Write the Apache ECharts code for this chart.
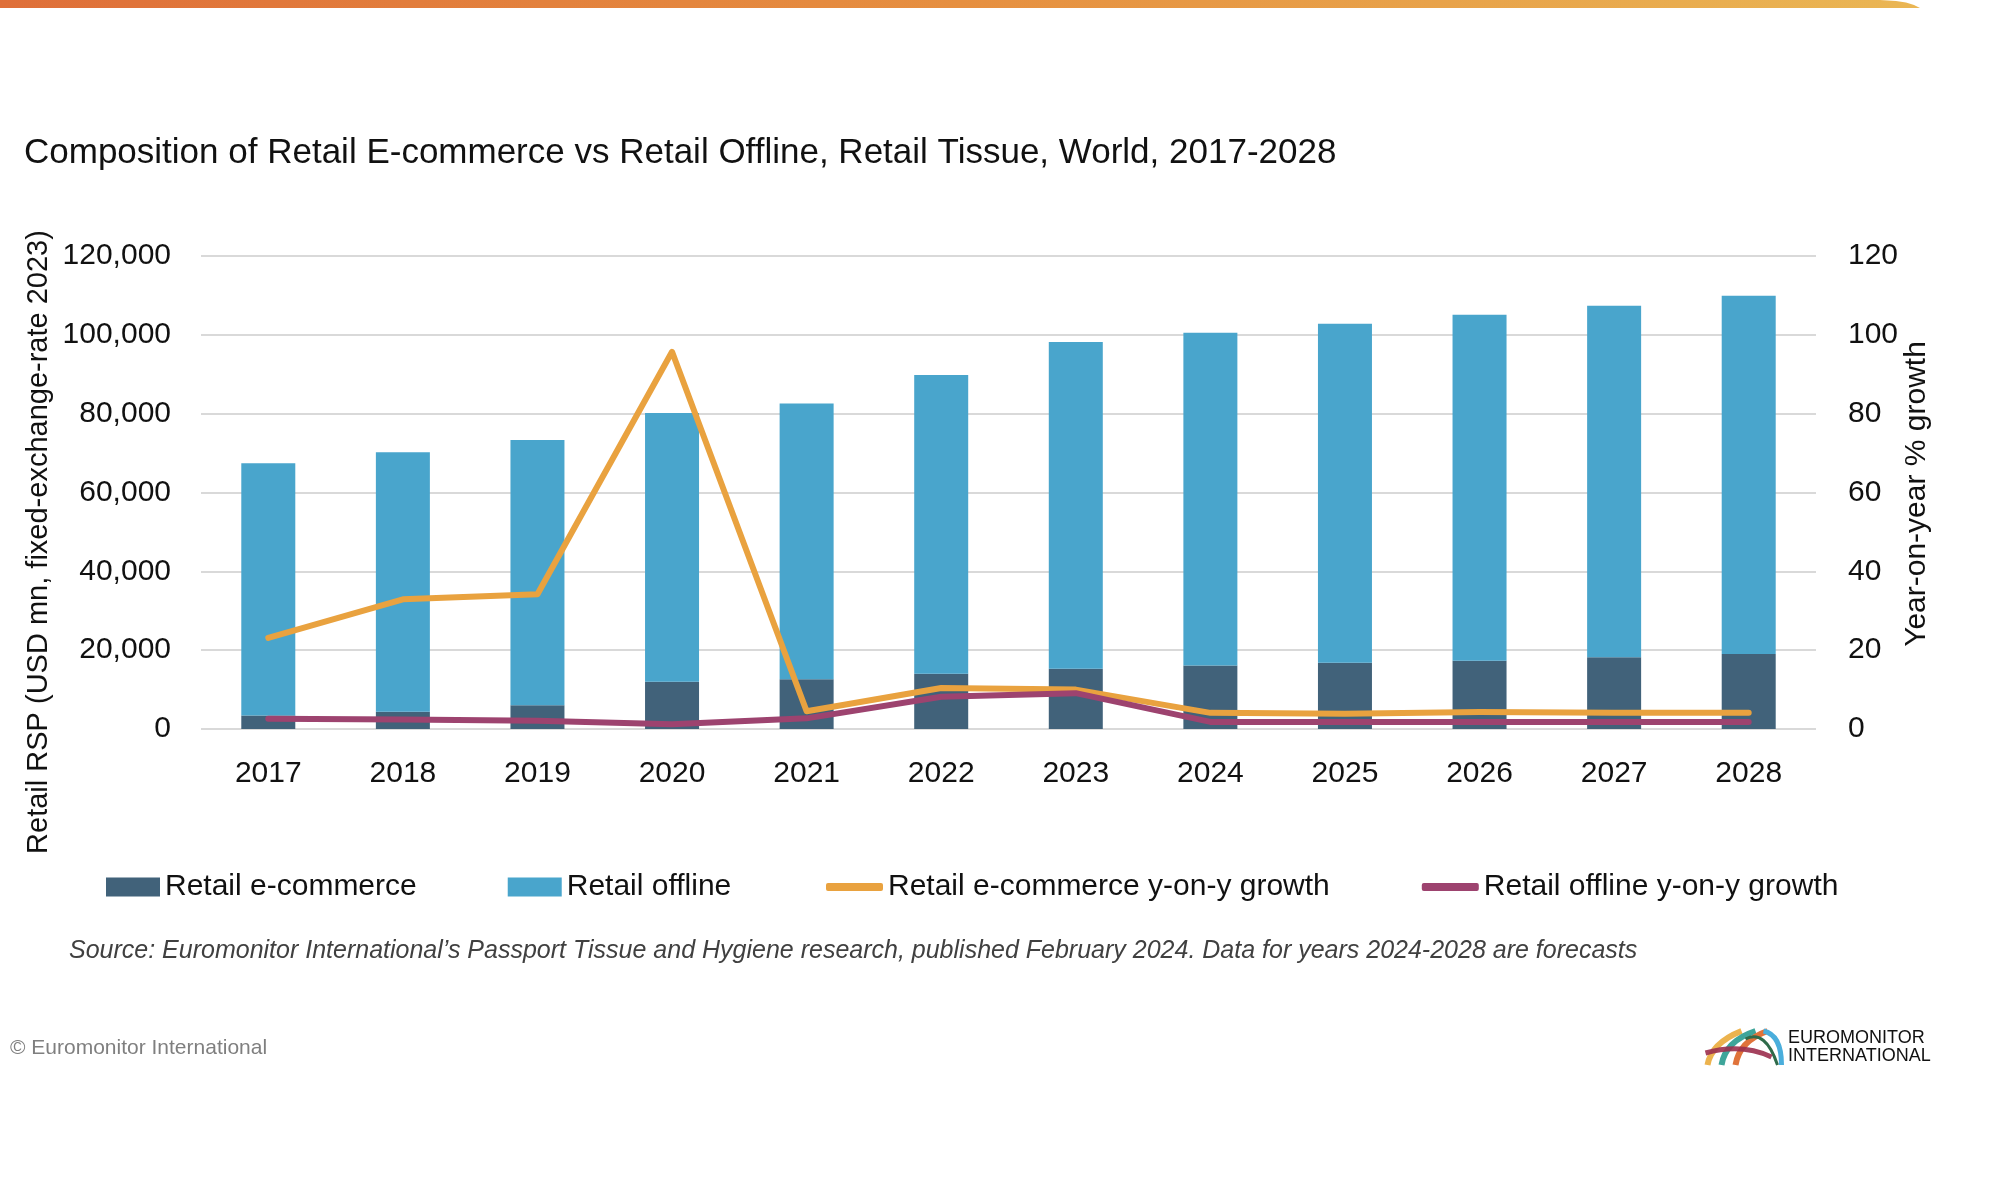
<!DOCTYPE html>
<html>
<head>
<meta charset="utf-8">
<title>Retail E-commerce vs Retail Offline, Retail Tissue</title>
<script src="https://cdn.jsdelivr.net/npm/echarts@6/dist/echarts.min.js"></script>
<style>
  html, body { margin: 0; padding: 0; background: #fff; }
  #chart { width: 2000px; height: 1195px; }
</style>
</head>
<body>
<div id="chart"></div>
<script>
// data
var years = ["2017", "2018", "2019", "2020", "2021", "2022", "2023", "2024", "2025", "2026", "2027", "2028"];
var ecommerce = [3400, 4400, 6000, 12000, 12600, 14000, 15300, 16100, 16800, 17300, 18200, 19000];
var offline = [64000, 65800, 67300, 68200, 70000, 75800, 82900, 84400, 86000, 87800, 89200, 90900];
var ecommerceGrowth = [23.1, 32.9, 34.2, 95.7, 4.5, 10.4, 10.0, 4.1, 3.9, 4.3, 4.1, 4.1];
var offlineGrowth = [2.6, 2.4, 2.1, 1.2, 2.7, 8.2, 9.1, 1.8, 1.8, 1.8, 1.8, 1.8];
var leftTicks = { min: 0, max: 120000, interval: 20000 };
var rightTicks = { min: 0, max: 120, interval: 20 };

var FONT = "Liberation Sans, Arial, sans-serif";
var colors = {
  ecom: "#41627a",
  offline: "#49a5cc",
  ecomGrowth: "#e9a23f",
  offlineGrowth: "#9d436f"
};

var chart = echarts.init(document.getElementById("chart"), null, { renderer: "canvas" });

var topBar = new echarts.graphic.LinearGradient(0, 0, 1, 0, [
  { offset: 0, color: "#df6f39" },
  { offset: 0.5, color: "#e68f40" },
  { offset: 1, color: "#eab654" }
]);

var option = {
  backgroundColor: "#ffffff",
  animation: false,
  textStyle: { fontFamily: FONT },
  grid: {
    left: 201,
    right: 184,
    top: 256,
    bottom: 466,
    containLabel: false
  },
  legend: [
    {
      left: 101,
      top: 867,
      itemWidth: 54,
      itemHeight: 19,
      itemGap: 91,
      icon: "rect",
      textStyle: { fontSize: 30, color: "#111", fontFamily: FONT },
      data: ["Retail e-commerce", "Retail offline"]
    },
    {
      left: 821,
      top: 867,
      itemWidth: 57,
      itemHeight: 8,
      itemGap: 92,
      icon: "roundRect",
      textStyle: { fontSize: 30, color: "#111", fontFamily: FONT },
      data: ["Retail e-commerce y-on-y growth", "Retail offline y-on-y growth"]
    }
  ],
  xAxis: {
    type: "category",
    data: years,
    axisLine: { show: false },
    axisTick: { show: false },
    axisLabel: { fontSize: 30, color: "#111", margin: 30, fontFamily: FONT }
  },
  yAxis: [
    {
      type: "value",
      min: leftTicks.min,
      max: leftTicks.max,
      interval: leftTicks.interval,
      axisLine: { show: false },
      axisTick: { show: false },
      splitLine: { lineStyle: { color: "#d9d9d9", width: 2 } },
      axisLabel: {
        fontSize: 30,
        color: "#111",
        margin: 30,
        fontFamily: FONT,
        formatter: function (v) { return v.toLocaleString("en-US"); }
      }
    },
    {
      type: "value",
      position: "right",
      min: rightTicks.min,
      max: rightTicks.max,
      interval: rightTicks.interval,
      axisLine: { show: false },
      axisTick: { show: false },
      splitLine: { show: false },
      axisLabel: { fontSize: 30, color: "#111", margin: 32, fontFamily: FONT }
    }
  ],
  series: [
    {
      name: "Retail e-commerce",
      type: "bar",
      stack: "rsp",
      barWidth: 54,
      color: colors.ecom,
      data: ecommerce
    },
    {
      name: "Retail offline",
      type: "bar",
      stack: "rsp",
      barWidth: 54,
      color: colors.offline,
      data: offline
    },
    {
      name: "Retail e-commerce y-on-y growth",
      type: "line",
      yAxisIndex: 1,
      symbol: "none",
      color: colors.ecomGrowth,
      lineStyle: { width: 6, cap: "round", join: "round" },
      data: ecommerceGrowth
    },
    {
      name: "Retail offline y-on-y growth",
      type: "line",
      yAxisIndex: 1,
      symbol: "none",
      color: colors.offlineGrowth,
      lineStyle: { width: 6, cap: "round", join: "round" },
      data: offlineGrowth
    }
  ],
  graphic: [
    // orange band at the top of the slide
    {
      type: "polygon",
      shape: {
        points: [[0, 0], [1880, 0], [1896, 1], [1906, 2.5], [1914, 5], [1920, 8], [0, 8]]
      },
      style: { fill: topBar }
    },
    {
      type: "text",
      left: 24,
      top: 136,
      style: {
        text: "Composition of Retail E-commerce vs Retail Offline, Retail Tissue, World, 2017-2028",
        font: "35px " + FONT,
        fill: "#111"
      }
    },
    // axis names
    {
      type: "text",
      x: 39,
      y: 542,
      rotation: Math.PI / 2,
      style: {
        text: "Retail RSP (USD mn, fixed-exchange-rate 2023)",
        font: "29px " + FONT,
        fill: "#111",
        align: "center",
        verticalAlign: "middle"
      }
    },
    {
      type: "text",
      x: 1917,
      y: 494,
      rotation: Math.PI / 2,
      style: {
        text: "Year-on-year % growth",
        font: "30px " + FONT,
        fill: "#111",
        align: "center",
        verticalAlign: "middle"
      }
    },
    {
      type: "text",
      left: 69,
      top: 939,
      style: {
        text: "Source: Euromonitor International\u2019s Passport Tissue and Hygiene research, published February 2024. Data for years 2024-2028 are forecasts",
        font: "italic 25px " + FONT,
        fill: "#404040"
      }
    },
    {
      type: "text",
      left: 10,
      top: 1038,
      style: {
        text: "\u00a9 Euromonitor International",
        font: "21px " + FONT,
        fill: "#7f7f7f"
      }
    },
    // logo
    {
      type: "group",
      left: 1703,
      top: 1028,
      children: [
        { type: "bezierCurve", shape: { x1: 2, y1: 36, cpx1: 6, cpy1: 14, x2: 36, y2: 2 }, style: { stroke: "#ecb34e", lineWidth: 6, fill: null } },
        { type: "bezierCurve", shape: { x1: 16, y1: 36, cpx1: 20, cpy1: 12, x2: 50, y2: 2 }, style: { stroke: "#3ea59a", lineWidth: 6, fill: null } },
        { type: "bezierCurve", shape: { x1: 30, y1: 36, cpx1: 34, cpy1: 12, x2: 62, y2: 2 }, style: { stroke: "#e0733a", lineWidth: 6, fill: null } },
        { type: "bezierCurve", shape: { x1: 40, y1: 10, cpx1: 60, cpy1: 0, x2: 72, y2: 36 }, style: { stroke: "#2f6b4a", lineWidth: 3, fill: null } },
        { type: "bezierCurve", shape: { x1: 58, y1: 2, cpx1: 76, cpy1: 6, x2: 76, y2: 36 }, style: { stroke: "#4aaedc", lineWidth: 5, fill: null } },
        { type: "bezierCurve", shape: { x1: 0, y1: 24, cpx1: 36, cpy1: 14, x2: 66, y2: 28 }, style: { stroke: "#9b2f4e", lineWidth: 5, fill: null, opacity: 0.9 } }
      ]
    },
    {
      type: "text",
      left: 1788,
      top: 1029,
      style: {
        text: "EUROMONITOR\nINTERNATIONAL",
        font: "18px " + FONT,
        lineHeight: 18,
        fill: "#111"
      }
    }
  ]
};

chart.setOption(option);
</script>
</body>
</html>
